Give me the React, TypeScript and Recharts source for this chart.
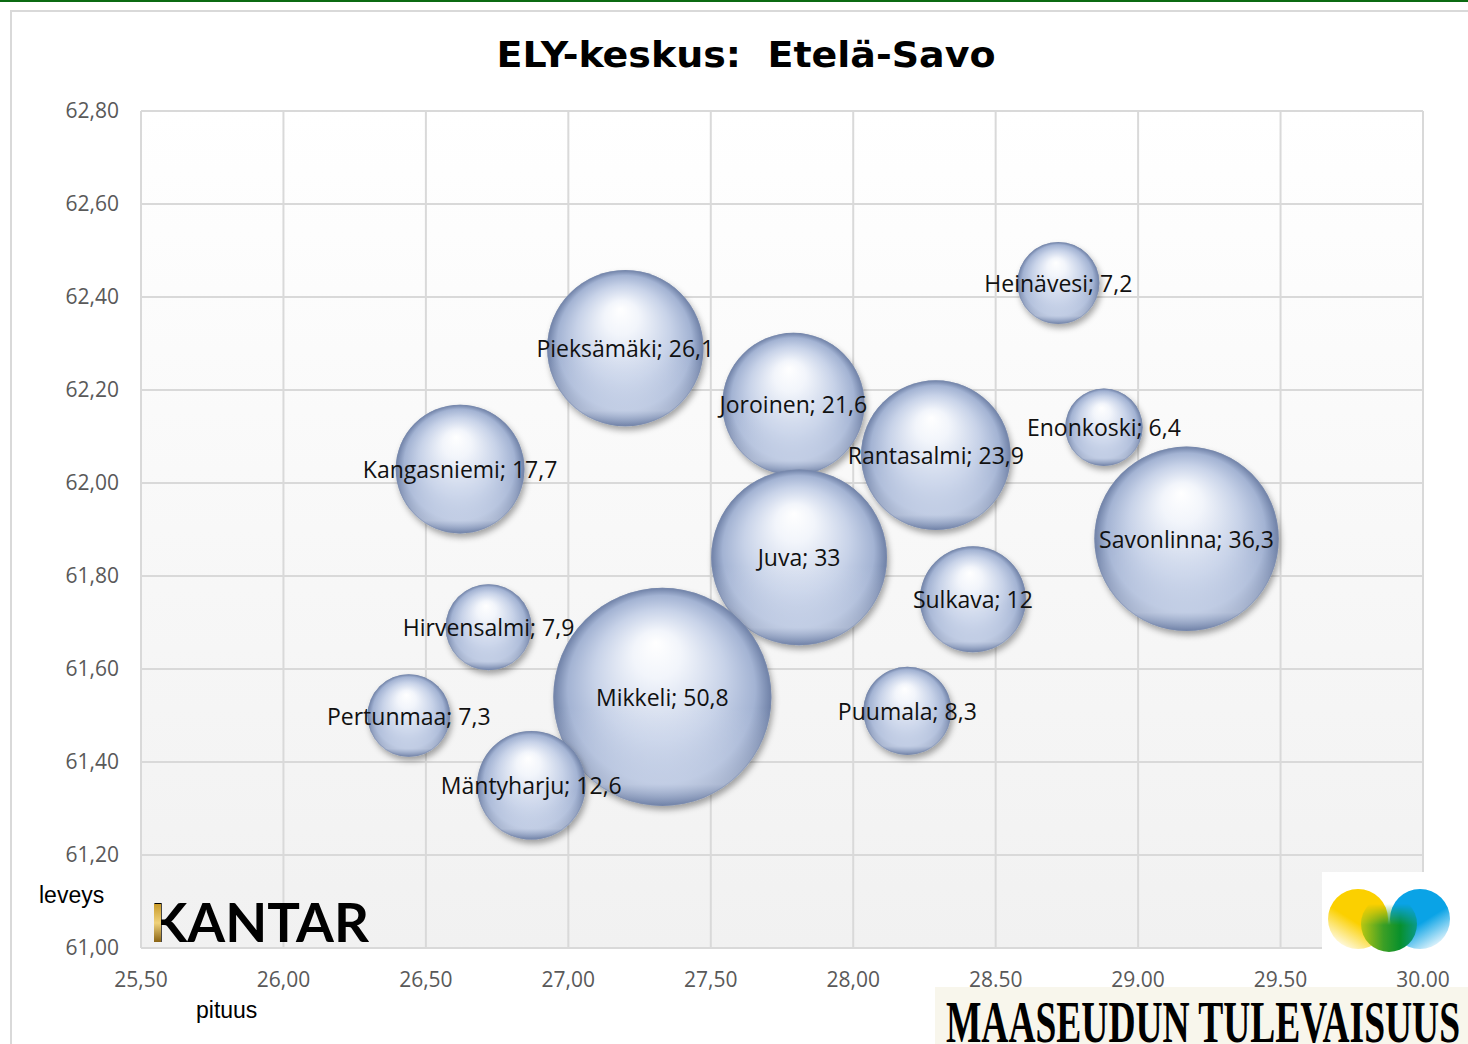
import React from "react";
import {
  ScatterChart,
  Scatter,
  XAxis,
  YAxis,
  ZAxis,
  CartesianGrid,
  LabelList,
} from "recharts";

const TOWNS = [
  "Enonkoski",
  "Heinävesi",
  "Hirvensalmi",
  "Joroinen",
  "Juva",
  "Kangasniemi",
  "Mikkeli",
  "Mäntyharju",
  "Pertunmaa",
  "Pieksämäki",
  "Puumala",
  "Rantasalmi",
  "Savonlinna",
  "Sulkava",
];
const LONGITUDE = [28.88, 28.72, 26.72, 27.79, 27.81, 26.62, 27.33, 26.87, 26.44, 27.2, 28.19, 28.29, 29.17, 28.42];
const LATITUDE = [62.12, 62.43, 61.69, 62.17, 61.84, 62.03, 61.54, 61.35, 61.5, 62.29, 61.51, 62.06, 61.88, 61.75];
const POPULATION = [6.4, 7.2, 7.9, 21.6, 33, 17.7, 50.8, 12.6, 7.3, 26.1, 8.3, 23.9, 36.3, 12];

const X_TICKS = [25.5, 26, 26.5, 27, 27.5, 28, 28.5, 29, 29.5, 30];
const X_TICK_LABELS = ["25,50", "26,00", "26,50", "27,00", "27,50", "28,00", "28.50", "29.00", "29.50", "30.00"];
const Y_TICKS = [61, 61.2, 61.4, 61.6, 61.8, 62, 62.2, 62.4, 62.6, 62.8];

const W = 1468;
const H = 1044;
const FONT = "'Open Sans', sans-serif";

const data = TOWNS.map((name, i) => ({
  name,
  x: LONGITUDE[i],
  y: LATITUDE[i],
  z: POPULATION[i],
}));

const fmt = (v: number) => String(v).replace(".", ",");

function Bubble(props: any) {
  const { cx, cy, width, size } = props;
  const r = width ? width / 2 : Math.sqrt((size || 0) / Math.PI);
  return (
    <g>
      <circle cx={cx} cy={cy} r={r} fill="url(#bubbleBody)" filter="url(#bubbleShadow)" />
      <circle cx={cx} cy={cy} r={r} fill="url(#bubbleRim)" />
      <circle cx={cx} cy={cy} r={r - 0.5} fill="none" stroke="#7d8db0" strokeOpacity={0.5} strokeWidth={1} />
    </g>
  );
}

function BubbleLabel(props: any) {
  const { x, y, width, height, index } = props;
  const d = data[index];
  if (!d) return null;
  return (
    <text
      x={x + width / 2}
      y={y + height / 2}
      textAnchor="middle"
      dominantBaseline="central"
      fontFamily={FONT}
      fontSize={23}
      fill="#111"
    >
      {`${d.name}; ${fmt(d.z)}`}
    </text>
  );
}

export default function App() {
  return (
    <div style={{ position: "absolute", left: 0, top: 0, width: W, height: H, background: "#fff" }}>
      <svg width={W} height={H} style={{ position: "absolute", left: 0, top: 0 }}>
        <rect x={0} y={0} width={W} height={2} fill="#0b6a12" />
        <path d={`M11 ${H} L11 11 L${W} 11`} fill="none" stroke="#d9d9d9" strokeWidth={2} />
      </svg>

      <div style={{ position: "absolute", left: 0, top: 0 }}>
        <ScatterChart width={W} height={H} margin={{ top: 111, right: 45, bottom: 36, left: 41 }}>
          <defs>
            <linearGradient id="plotBg" x1="0" y1="0" x2="0" y2="1">
              <stop offset="0" stopColor="#ffffff" />
              <stop offset="1" stopColor="#f1f1f1" />
            </linearGradient>
            <radialGradient id="bubbleBody" cx="0.5" cy="0.5" r="0.5" fx="0.47" fy="0.25">
              <stop offset="0" stopColor="#ffffff" />
              <stop offset="0.22" stopColor="#f2f5fb" />
              <stop offset="0.6" stopColor="#c7d2e8" />
              <stop offset="0.86" stopColor="#a3b3d3" />
              <stop offset="1" stopColor="#6e80a6" />
            </radialGradient>
            <linearGradient id="bubbleRim" x1="0" y1="0" x2="0" y2="1">
              <stop offset="0.55" stopColor="#e2e9f7" stopOpacity="0" />
              <stop offset="0.9" stopColor="#e2e9f7" stopOpacity="0.5" />
              <stop offset="1" stopColor="#e2e9f7" stopOpacity="0" />
            </linearGradient>
            <filter id="bubbleShadow" x="-20%" y="-20%" width="150%" height="150%">
              <feDropShadow dx="2" dy="4" stdDeviation="3" floodColor="#000" floodOpacity="0.35" />
            </filter>
          </defs>
          <CartesianGrid stroke="#d9d9d9" strokeWidth={2} fill="url(#plotBg)" fillOpacity={1} />
          <XAxis
            type="number"
            dataKey="x"
            domain={[25.5, 30]}
            ticks={X_TICKS}
            tickFormatter={(v: number) => X_TICK_LABELS[X_TICKS.indexOf(v)] ?? fmt(v)}
            height={60}
            axisLine={{ stroke: "#d9d9d9", strokeWidth: 2 }}
            tickLine={false}
            tickSize={0}
            tickMargin={24}
            tick={{ fill: "#595959", fontSize: 21, fontFamily: FONT }}
            interval={0}
          />
          <YAxis
            type="number"
            dataKey="y"
            domain={[61, 62.8]}
            ticks={Y_TICKS}
            tickFormatter={(v: number) => v.toFixed(2).replace(".", ",")}
            width={100}
            axisLine={{ stroke: "#d9d9d9", strokeWidth: 2 }}
            tickLine={false}
            tickSize={0}
            tickMargin={22}
            tick={{ fill: "#595959", fontSize: 21, fontFamily: FONT }}
            interval={0}
          />
          <ZAxis type="number" dataKey="z" domain={[0, 60]} range={[0, 44125]} />
          <Scatter data={data} shape={(p: any) => <Bubble {...p} />} isAnimationActive={false}>
            <LabelList dataKey="name" content={(p: any) => <BubbleLabel {...p} />} />
          </Scatter>
        </ScatterChart>
      </div>

      <svg width={W} height={H} style={{ position: "absolute", left: 0, top: 0, pointerEvents: "none" }}>
        <text
          x={746}
          y={67}
          textAnchor="middle"
          fontFamily="'DejaVu Sans', Verdana, sans-serif"
          fontWeight="bold"
          fontSize={35}
          textLength={499}
          lengthAdjust="spacingAndGlyphs"
          style={{ whiteSpace: "pre" }}
          fill="#000"
        >
          {"ELY-keskus:  Etelä-Savo"}
        </text>
        <text x={39} y={903} fontFamily="'Liberation Sans', Arial, sans-serif" fontSize={23} fill="#000">
          leveys
        </text>
        <text x={196} y={1018} fontFamily="'Liberation Sans', Arial, sans-serif" fontSize={23} fill="#000">
          pituus
        </text>

        {/* KANTAR */}
        <text
          x={150}
          y={942}
          fontFamily="'Lato', sans-serif"
          fontWeight={700}
          fontSize={54}
          textLength={219}
          lengthAdjust="spacingAndGlyphs"
          fill="#000"
        >
          KANTAR
        </text>
        <defs>
          <linearGradient id="gold" x1="0" y1="0" x2="0" y2="1">
            <stop offset="0" stopColor="#c89a2a" />
            <stop offset="0.5" stopColor="#f0d27a" />
            <stop offset="1" stopColor="#8a6414" />
          </linearGradient>
          <linearGradient id="logoY" x1="0.7" y1="0.2" x2="0.2" y2="1">
            <stop offset="0.45" stopColor="#fbd000" />
            <stop offset="1" stopColor="#ffffff" />
          </linearGradient>
          <linearGradient id="logoB" x1="0.3" y1="0.2" x2="0.8" y2="1">
            <stop offset="0.45" stopColor="#0aa3e6" />
            <stop offset="1" stopColor="#ffffff" />
          </linearGradient>
          <linearGradient id="logoG" x1="0" y1="0" x2="1" y2="0">
            <stop offset="0" stopColor="#b8c712" />
            <stop offset="0.4" stopColor="#3c9f25" />
            <stop offset="0.7" stopColor="#08902c" />
            <stop offset="1" stopColor="#0a9a8a" />
          </linearGradient>
          <linearGradient id="logoFade" x1="0" y1="0" x2="0" y2="1">
            <stop offset="0.15" stopColor="#fff" stopOpacity="0" />
            <stop offset="0.5" stopColor="#fff" stopOpacity="1" />
          </linearGradient>
          <mask id="logoMask" maskContentUnits="userSpaceOnUse">
            <rect x={1350} y={895} width={80} height={60} fill="url(#logoFade)" />
          </mask>
        </defs>
        <rect x={154} y={904} width={7} height={38} fill="url(#gold)" />

        {/* right logo */}
        <rect x={1322} y={872} width={128} height={88} fill="#fff" />
        <circle cx={1358} cy={919} r={30} fill="url(#logoY)" />
        <circle cx={1420} cy={919} r={30} fill="url(#logoB)" />
        <circle cx={1389} cy={924} r={28} fill="url(#logoG)" mask="url(#logoMask)" />

        {/* MAASEUDUN TULEVAISUUS */}
        <rect x={935} y={987} width={W - 935} height={H - 987} fill="#f8f6ec" />
        <text
          x={946}
          y={1042}
          fontFamily="'Liberation Serif', 'Times New Roman', serif"
          fontWeight="bold"
          fontSize={60}
          textLength={514}
          lengthAdjust="spacingAndGlyphs"
          fill="#000"
        >
          MAASEUDUN TULEVAISUUS
        </text>
      </svg>
    </div>
  );
}
